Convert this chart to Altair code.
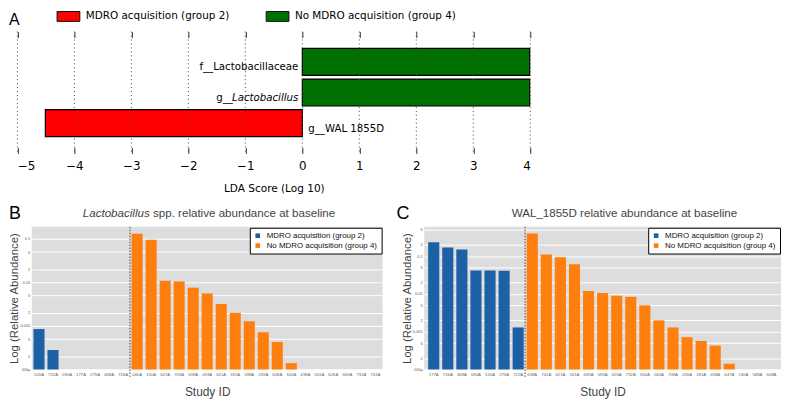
import altair as alt
import pandas as pd

# ---------------- data ----------------
group_names = ["MDRO acquisition (group 2)", "No MDRO acquisition (group 4)"]

# Panel A (LEfSe)
lda_features = ["f__Lactobacillaceae", "g__Lactobacillus", "g__WAL 1855D"]
lda_scores = [3.99, 3.99, -4.51]
lda_groups = [group_names[1], group_names[1], group_names[0]]
lda_label_plain = ["f__Lactobacillaceae", "g__", "g__WAL 1855D"]
lda_label_italic = ["", "Lactobacillus", ""]
lda_ticks = [-5, -4, -3, -2, -1, 0, 1, 2, 3, 4]

# Panel B (Lactobacillus spp.)
b_blue_ids = ["520A", "722A", "090A", "177A", "279A", "468A", "726A"]
b_blue_vals = [8.5e-4, 2.8e-4, None, None, None, None, None]
b_orange_ids = ["040A", "130A", "647A", "709A", "638A", "093A", "621A", "181A", "588A",
                "269A", "608A", "300A", "438A", "561A", "626A", "669A", "732A", "741A"]
b_orange_vals = [0.131, 0.096, 0.011, 0.0105, 0.0076, 0.0056, 0.0032, 0.002, 0.00128,
                 0.00072, 0.00043, 0.00014, None, None, None, None, None, None]

# Panel C (WAL_1855D)
c_blue_ids = ["177A", "726A", "468A", "090A", "520A", "279A", "722A"]
c_blue_vals = [0.235, 0.17, 0.15, 0.042, 0.042, 0.041, 0.0013]
c_orange_ids = ["638A", "741A", "621A", "561A", "669A", "093A", "626A", "732A", "300A",
                "040A", "709A", "269A", "181A", "438A", "647A", "130A", "588A", "608A"]
c_orange_vals = [0.40, 0.11, 0.094, 0.061, 0.012, 0.0106, 0.009, 0.0084, 0.005,
                 0.002, 0.0013, 0.00072, 0.00057, 0.00043, 0.000142, None, None, None]

b_ticks = [1e-4, 2e-4, 5e-4, 1e-3, 2e-3, 5e-3, 0.01, 0.02, 0.05, 0.1]
c_ticks = b_ticks + [0.2, 0.5]

panel_letters = ["A", "B", "C"]
b_title_italic = "Lactobacillus"
b_title_rest = "spp. relative abundance at baseline"
c_title = "WAL_1855D relative abundance at baseline"

lefse_colors = ["#ff0000", "#007000"]
bar_colors = ["#1c60a6", "#ff7f0e"]

# ---------------- panel A ----------------
A_W, A_H = 496, 123
A_LEFT = -14.5   # panel A's axis starts a little left of the aligned plot origin
A_RIGHT = A_W + 7
dfA = pd.DataFrame({"feature": lda_features, "score": lda_scores, "group": lda_groups,
                    "plain": lda_label_plain, "ital": lda_label_italic})
x_scale_A = alt.Scale(domain=[-5, 4], nice=False, zero=False, range=[A_LEFT, A_RIGHT])
y_enc_A = alt.Y("feature:N", sort=lda_features,
                scale=alt.Scale(domain=lda_features, paddingInner=0.12, paddingOuter=0.55), axis=None)
x_zero = alt.XDatum(0, scale=x_scale_A, axis=None)

bars_A = alt.Chart(dfA).mark_bar(stroke="black", strokeWidth=1.2).encode(
    x=alt.X("score:Q", scale=x_scale_A,
            axis=alt.Axis(orient="bottom", values=lda_ticks, format="d", offset=-6, tickSize=6,
                          tickColor="#333", domain=False, grid=False, labelFont="DejaVu Sans",
                          labelFontSize=12, labelColor="black", labelPadding=7,
                          title="LDA Score (Log 10)", titleFont="DejaVu Sans", titleFontSize=10.6,
                          titleFontWeight="normal", titleColor="black", titlePadding=12)),
    x2=alt.datum(0),
    y=y_enc_A,
    color=alt.Color("group:N", scale=alt.Scale(domain=group_names, range=lefse_colors),
                    legend=alt.Legend(orient="none", legendX=45 + A_LEFT, legendY=-22,
                                      direction="horizontal",
                                      title=None, symbolType="M-2,-0.87L2,-0.87L2,0.87L-2,0.87Z",
                                      symbolSize=132, symbolStrokeColor="#111", symbolStrokeWidth=1,
                                      symbolOpacity=1, labelFont="DejaVu Sans", labelFontSize=10.5,
                                      labelColor="black", labelOffset=11, columnPadding=34,
                                      labelLimit=300)),
)

grid_A = alt.Chart(pd.DataFrame({"score": lda_ticks})).mark_rule(
    strokeDash=[1, 3], color="#444", strokeWidth=1).encode(
    x=alt.X("score:Q", scale=x_scale_A,
            axis=alt.Axis(orient="top", values=lda_ticks, offset=-6, tickSize=6, tickColor="#333",
                          labels=False, domain=False, grid=False, title=None)))

txt_font = dict(font="DejaVu Sans", fontSize=10.3, color="black", baseline="middle", dy=5.5)
txt_right = alt.Chart(dfA).transform_filter("datum.score > 0 && datum.ital == ''").mark_text(
    align="right", dx=-4, **txt_font).encode(x=x_zero, y=y_enc_A, text="plain:N")
txt_ital = alt.Chart(dfA).transform_filter("datum.ital != ''").mark_text(
    align="right", dx=-4, fontStyle="italic", **txt_font).encode(x=x_zero, y=y_enc_A, text="ital:N")
txt_pref = alt.Chart(dfA).transform_filter("datum.ital != ''").mark_text(
    align="right", dx=-70, **txt_font).encode(x=x_zero, y=y_enc_A, text="plain:N")
txt_left = alt.Chart(dfA).transform_filter("datum.score < 0").mark_text(
    align="left", dx=6, **txt_font).encode(x=x_zero, y=y_enc_A, text="plain:N")

letter_A = alt.Chart(pd.DataFrame({"t": [panel_letters[0]]})).mark_text(
    align="left", baseline="top", font="Liberation Sans", fontSize=16, color="black").encode(
    x=alt.value(A_LEFT - 8.5), y=alt.value(-20), text="t:N")

panel_A = alt.layer(bars_A, grid_A, txt_right, txt_ital, txt_pref, txt_left, letter_A).resolve_axis(
    x="independent").properties(width=A_W, height=A_H, view=alt.ViewBackground(stroke=None))

# ---------------- panels B, C ----------------
LOG_LABEL = ("abs(log(datum.value)/LN10 - round(log(datum.value)/LN10)) < 0.001 ? "
             "(datum.value < 0.00015 ? '100\u00b5' : format(datum.value, '~g')) : "
             "format(datum.value / pow(10, floor(log(datum.value)/LN10 + 0.001)), '.0f')")


def abundance_panel(blue_ids, blue_vals, orange_ids, orange_vals, ticks, ymax, width, height,
                    pad_outer, letter, letter_x, title_layers, legend_expr):
    ids = blue_ids + orange_ids
    df = pd.DataFrame({"id": ids, "value": blue_vals + orange_vals,
                       "group": [group_names[0]] * len(blue_ids) + [group_names[1]] * len(orange_ids)})
    x_scale = alt.Scale(domain=ids, paddingInner=0.21, paddingOuter=pad_outer)
    y_scale = alt.Scale(type="log", domain=[1e-4, ymax], nice=False)
    bars = alt.Chart(df).mark_bar().encode(
        x=alt.X("id:N", sort=ids, scale=x_scale,
                axis=alt.Axis(labelAngle=0, labelFont="Liberation Sans", labelFontSize=4.3,
                              labelColor="#666", ticks=False, domain=False, labelPadding=3,
                              labelOverlap=False, title="Study ID", titleFont="Liberation Sans",
                              titleFontSize=12, titleFontWeight="normal", titleColor="#444",
                              titlePadding=10)),
        y=alt.Y("value:Q", scale=y_scale,
                axis=alt.Axis(values=ticks, labelExpr=LOG_LABEL, grid=True, gridColor="white",
                              gridWidth=1, domain=False, ticks=False, labelFont="Liberation Sans",
                              labelFontSize=4, labelColor="#555", labelPadding=2, labelOverlap=False,
                              labelFlush=False, title="Log (Relative Abundance)",
                              titleFont="Liberation Sans", titleFontSize=11.5,
                              titleFontWeight="normal", titleColor="#444", titlePadding=0)),
        y2=alt.datum(1e-4),
        color=alt.Color("group:N", scale=alt.Scale(domain=group_names, range=bar_colors),
                        legend=alt.Legend(orient="top-right", offset=1, title=None, fillColor="white",
                                          strokeColor="black", padding=4, symbolType="square",
                                          symbolSize=22, symbolStrokeWidth=0,
                                          labelFont="Liberation Sans", labelFontSize=8,
                                          labelColor="#111", labelOffset=5, rowPadding=2,
                                          labelLimit=300, labelExpr=legend_expr)),
    )
    rule = alt.Chart(pd.DataFrame({"id": [orange_ids[0]]})).mark_rule(
        strokeDash=[1.5, 1.5], color="#444", strokeWidth=1, xOffset=-1.6).encode(
        x=alt.X("id:N", bandPosition=0, scale=x_scale), y=alt.value(0), y2=alt.value(height + 9))
    letter_layer = alt.Chart(pd.DataFrame({"t": [letter]})).mark_text(
        align="left", baseline="top", font="Liberation Sans", fontSize=18, color="black").encode(
        x=alt.value(letter_x), y=alt.value(-22), text="t:N")
    return alt.layer(bars, rule, letter_layer, *title_layers).properties(
        width=width, height=height, view=alt.ViewBackground(fill="#dddddd", stroke=None))


B_W, C_W, BC_H = 354, 360, 144
title_style = dict(font="Liberation Sans", fontSize=11.7, color="#444", baseline="middle")
b_split = B_W / 2 - 58
b_titles = [
    alt.Chart(pd.DataFrame({"t": [b_title_italic]})).mark_text(
        align="right", fontStyle="italic", **title_style).encode(
        x=alt.value(b_split), y=alt.value(-14), text="t:N"),
    alt.Chart(pd.DataFrame({"t": [b_title_rest]})).mark_text(
        align="left", dx=3.3, **title_style).encode(
        x=alt.value(b_split), y=alt.value(-14), text="t:N"),
]
c_titles = [
    alt.Chart(pd.DataFrame({"t": [c_title]})).mark_text(align="center", **title_style).encode(
        x=alt.value(202), y=alt.value(-14), text="t:N"),
]

panel_B = abundance_panel(b_blue_ids, b_blue_vals, b_orange_ids, b_orange_vals, b_ticks, 0.19,
                          B_W, BC_H, 0.12, panel_letters[1], -23, b_titles,
                          "datum.label[0] == 'N' ? '\u00a0' + datum.label : datum.label")
panel_C = abundance_panel(c_blue_ids, c_blue_vals, c_orange_ids, c_orange_vals, c_ticks, 0.6,
                          C_W, BC_H, 0.28, panel_letters[2], -28, c_titles, "datum.label")

row = alt.hconcat(panel_B, panel_C, spacing=14).resolve_scale(color="independent")
chart = alt.concat(panel_A, row, columns=1, align="none", spacing=11).resolve_scale(
    color="independent").properties(padding=0).configure_view(stroke=None)

chart.save("out.html", embed_options={"renderer": "svg", "actions": False})
